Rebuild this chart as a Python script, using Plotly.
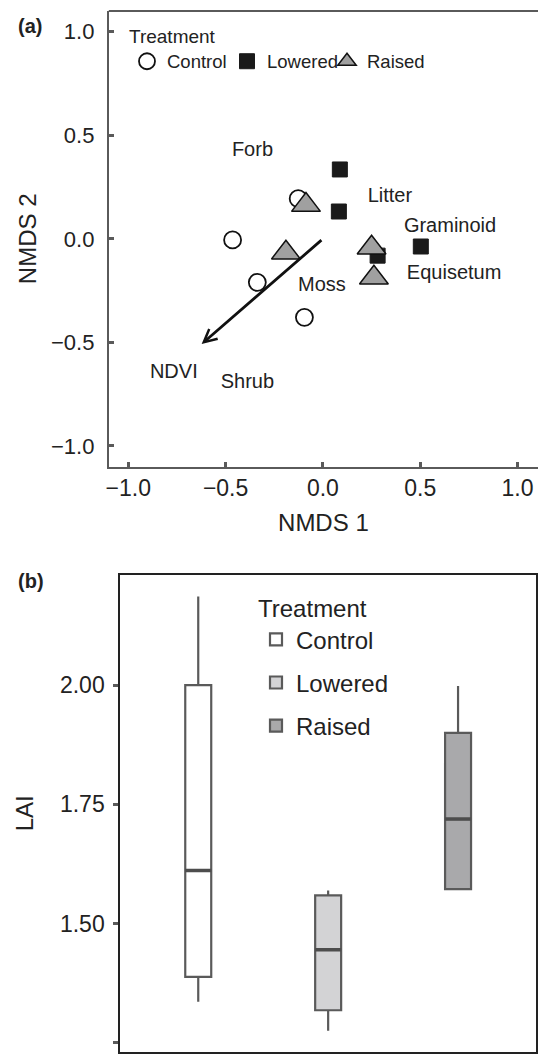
import plotly.graph_objects as go

W, H = 538, 1054


def fx(px):
    return px / W


def fy(py):
    return 1 - py / H


# ---------------- Panel (a): NMDS ordination ----------------
control_x = [-0.127, -0.464, -0.337, -0.095]
control_y = [0.194, -0.005, -0.210, -0.379]
lowered_x = [0.087, 0.082, 0.281, 0.503]
lowered_y = [0.335, 0.132, -0.081, -0.037]
raised_x = [-0.087, -0.190, 0.250, 0.262]
raised_y = [0.163, -0.067, -0.043, -0.188]

species_labels = ["Forb", "Litter", "Graminoid", "Equisetum", "Moss", "Shrub", "NDVI"]
species_x = [-0.362, 0.344, 0.653, 0.674, -0.005, -0.388, -0.766]
species_y = [0.424, 0.201, 0.056, -0.169, -0.226, -0.697, -0.650]

ndvi_vector = (-0.623, -0.508)

nmds_ticks = [-1.0, -0.5, 0.0, 0.5, 1.0]

# ---------------- Panel (b): LAI boxplots ----------------
treatments = ["Control", "Lowered", "Raised"]
lai_lower = [1.336, 1.275, 1.572]
lai_q1 = [1.388, 1.318, 1.572]
lai_median = [1.611, 1.445, 1.719]
lai_q3 = [2.000, 1.559, 1.900]
lai_upper = [2.186, 1.569, 1.998]
lai_ticks = [1.25, 1.50, 1.75, 2.00]

box_fill = ["#ffffff", "#d3d3d5", "#a9a9ab"]

FONT = "Liberation Sans, Arial, Helvetica, sans-serif"
AX_GRAY = "#5a5a5a"
TXT = "#222222"

fig = go.Figure()

fig.add_trace(go.Scatter(
    x=control_x, y=control_y, mode="markers", name="Control",
    marker=dict(symbol="circle", size=17, color="white",
                line=dict(color="#111111", width=1.8)),
    xaxis="x", yaxis="y", legend="legend"))
fig.add_trace(go.Scatter(
    x=lowered_x, y=lowered_y, mode="markers", name="Lowered",
    marker=dict(symbol="square", size=15, color="#1a1a1a",
                line=dict(color="#1a1a1a", width=1)),
    xaxis="x", yaxis="y", legend="legend"))
fig.add_trace(go.Scatter(
    x=raised_x, y=raised_y, mode="markers", name="Raised",
    marker=dict(symbol="triangle-up", size=25, color="#a0a0a0",
                line=dict(color="#111111", width=1.5)),
    xaxis="x", yaxis="y", legend="legend"))
fig.add_trace(go.Scatter(
    x=species_x, y=species_y, mode="text", text=species_labels,
    textposition="middle center", textfont=dict(size=20, color=TXT, family=FONT),
    showlegend=False, hoverinfo="skip", xaxis="x", yaxis="y"))

for i, t in enumerate(treatments):
    fig.add_trace(go.Box(
        x=[t], q1=[lai_q1[i]], median=[lai_median[i]], q3=[lai_q3[i]],
        lowerfence=[lai_lower[i]], upperfence=[lai_upper[i]],
        name=t, fillcolor=box_fill[i], line=dict(color=AX_GRAY, width=2.2),
        width=0.2, whiskerwidth=0, boxpoints=False,
        xaxis="x2", yaxis="y2", legend="legend2", legendgroup=t))

# thicker median bars (degenerate boxes at the median value)
for i, t in enumerate(treatments):
    fig.add_trace(go.Box(
        x=[t], q1=[lai_median[i]], median=[lai_median[i]], q3=[lai_median[i]],
        lowerfence=[lai_median[i]], upperfence=[lai_median[i]],
        name=t, fillcolor="rgba(0,0,0,0)", line=dict(color="#4d4d4d", width=3.6),
        width=0.2, whiskerwidth=0, boxpoints=False, showlegend=False,
        hoverinfo="skip", xaxis="x2", yaxis="y2"))

fig.add_annotation(
    x=ndvi_vector[0], y=ndvi_vector[1], ax=0, ay=0, axref="x", ayref="y",
    xref="x", yref="y", text="", showarrow=True, arrowhead=5, arrowsize=0.9,
    arrowwidth=2.8, arrowcolor="#111111", standoff=0, startstandoff=0)

fig.add_annotation(x=fx(30), y=fy(26), xref="paper", yref="paper", text="<b>(a)</b>",
                   xanchor="center", yanchor="middle",
                   showarrow=False, font=dict(size=20, color=TXT, family=FONT))
fig.add_annotation(x=fx(31), y=fy(581), xref="paper", yref="paper", text="<b>(b)</b>",
                   xanchor="center", yanchor="middle",
                   showarrow=False, font=dict(size=20, color=TXT, family=FONT))

fig.add_shape(type="line", xref="x domain", yref="y domain", x0=0, x1=1, y0=1, y1=1,
              line=dict(color=AX_GRAY, width=2))

fig.update_layout(
    width=W, height=H, margin=dict(l=0, r=0, t=0, b=0, autoexpand=False),
    paper_bgcolor="white", plot_bgcolor="white",
    font=dict(family=FONT, color=TXT),
    boxmode="overlay",
    xaxis=dict(domain=[fx(108.8), 1.0], range=[-1.1, 1.105], anchor="y",
               tickvals=nmds_ticks, tickformat=".1f", showgrid=False, zeroline=False,
               showline=True, linecolor=AX_GRAY, linewidth=2,
               ticks="inside", ticklen=5, tickwidth=2.5, tickcolor=AX_GRAY,
               tickfont=dict(size=23, color=TXT), ticklabelstandoff=0,
               title=dict(text="NMDS 1", font=dict(size=24, color=TXT), standoff=14)),
    yaxis=dict(domain=[fy(466.7), fy(11)], range=[-1.1, 1.1], anchor="x",
               tickvals=nmds_ticks, tickformat=".1f", showgrid=False, zeroline=False,
               showline=True, linecolor=AX_GRAY, linewidth=2,
               ticks="inside", ticklen=5, tickwidth=2.5, tickcolor=AX_GRAY,
               tickfont=dict(size=22, color=TXT), ticklabelstandoff=8,
               title=dict(text="NMDS 2", font=dict(size=24, color=TXT), standoff=8)),
    xaxis2=dict(domain=[fx(120.3), fx(536)], range=[-0.6, 2.6], anchor="y2",
                type="category", categoryorder="array", categoryarray=treatments,
                showgrid=False, zeroline=False, showline=True, mirror=True,
                linecolor="#222222", linewidth=2,
                ticks="outside", ticklen=5, tickwidth=2.5, tickcolor=AX_GRAY,
                showticklabels=False),
    yaxis2=dict(domain=[fy(1051.7), fy(575)], range=[1.231, 2.231], anchor="x2",
                tickvals=lai_ticks, tickformat=".2f", showgrid=False, zeroline=False,
                showline=True, mirror=True, linecolor="#222222", linewidth=2,
                ticks="outside", ticklen=5, tickwidth=2.5, tickcolor=AX_GRAY,
                tickfont=dict(size=23, color=TXT), ticklabelstandoff=4,
                title=dict(text="LAI", font=dict(size=24, color=TXT), standoff=20)),
    legend=dict(x=fx(127), y=fy(18), xanchor="left", yanchor="top",
                orientation="h", title=dict(text="Treatment", side="top", font=dict(size=19)),
                font=dict(size=18.5, color=TXT), bgcolor="rgba(0,0,0,0)", itemsizing="trace",
                entrywidth=55),
    legend2=dict(x=fx(256), y=fy(586), xanchor="left", yanchor="top",
                 orientation="v", title=dict(text="Treatment", font=dict(size=24)),
                 font=dict(size=24, color=TXT), bgcolor="rgba(0,0,0,0)", tracegroupgap=9),
)

fig.write_html(
    "out.html",
    config={"displayModeBar": False},
    post_script=(
        "document.body.style.margin='0';"
        "document.documentElement.style.overflow='hidden';"
        "document.body.style.overflow='hidden';"
    ),
)
